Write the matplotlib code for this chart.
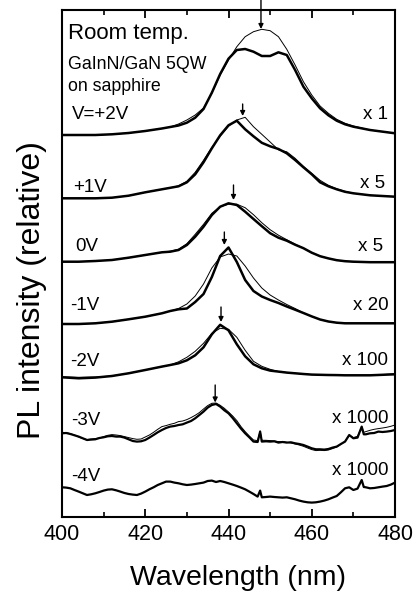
import matplotlib
matplotlib.use('Agg')
import matplotlib.pyplot as plt
from matplotlib.ticker import MultipleLocator
import numpy as np

plt.rcParams['font.family'] = ['Liberation Sans', 'DejaVu Sans']

# ---------------- data ----------------
WL = [400, 404, 408, 412, 416, 420, 424, 426, 428, 430, 432, 434, 436, 438, 440, 442,
      444, 446, 448, 450, 452, 454, 456, 458, 460, 462, 464, 466, 468, 470, 474, 480]

# heights above each spectrum's own baseline (relative units)
P2_THICK = [0, 0, 0, 0.7, 2, 4, 6.5, 8, 9.5, 12.3, 17.3, 26, 42.3, 61, 76.3, 85,
            86, 83.3, 79, 79, 82.7, 80, 65, 48.3, 36.7, 26.7, 19.7, 14.3, 10.7, 8.3, 5, 1.7]
P2_THIN = [0, 0, 0, 0.7, 2, 4, 6.5, 8, 11, 15, 20, 27, 42, 60, 75, 88.3,
           98.3, 103.3, 105.7, 104.3, 98.3, 85.7, 70, 53.3, 40, 29, 21.7, 15.7, 11.7, 9, 5, 1.7]
P1_THICK = [0, 0, 0, 0.6, 2.6, 6, 9, 10.5, 12, 16, 24, 36, 50, 63, 73, 77.6,
            69, 62, 55.5, 52, 49.3, 45, 38.3, 31, 24, 16, 12, 9, 6.5, 5, 3, 1.6]
P1_THIN = [0, 0, 0, 0.6, 2.6, 6, 9, 10.5, 12.5, 17, 26, 38, 51, 62, 72, 78.3,
           81, 71.6, 64, 56.3, 48.5, 46.5, 40, 32, 25, 18, 13, 9.5, 7, 5, 3, 1.6]
Z0_THICK = [0, 0, 0.7, 1.7, 4, 6.7, 9.4, 10, 11.7, 16.7, 25, 35, 46.7, 55, 58.4, 56.7,
            50, 42.7, 35.5, 28.5, 24, 21, 17, 13.5, 9, 5.5, 3.3, 1.5, 0.5, 0, -0.5, -0.5]
Z0_THIN = [0, 0, 0.7, 1.7, 4, 6.7, 9.4, 10.5, 12.5, 18, 27.4, 37.4, 48.4, 55, 57.5, 57.5,
           54, 47, 39, 32, 26.5, 22, 17.5, 13.5, 9, 5.5, 3.3, 1.5, 0.5, 0, -0.5, -0.5]
M1_THICK = [0, 0, 0.7, 2.3, 4.7, 7.3, 10.7, 13, 14.7, 15.5, 22, 30, 47, 68, 76.5, 62,
            44, 33, 27.5, 24, 21, 17.5, 14.3, 11, 7.6, 4.5, 2.5, 1.3, 0.7, 0.7, 0.7, 0.7]
M1_THIN = [0, 0, 0.7, 2.3, 4.7, 7.3, 10.7, 13, 15.5, 20, 28, 40, 56, 67, 70, 68,
           58, 46, 36, 29, 24, 19.5, 15.5, 11, 7.6, 4.5, 2.5, 1.3, 0.7, 0.7, 0.7, 0.7]
M2_THICK = [0, -1, -0.3, 1.3, 4, 7.3, 10.7, 12.3, 14, 17, 22, 30, 43, 52.5, 47, 33,
            21, 13, 9, 6.7, 5.7, 4.7, 4, 3.3, 2.7, 2.5, 2.3, 2.2, 2, 2, 2, 3]
M2_THIN = [0.5, 0, 0.3, 1.3, 4, 7.3, 10.7, 12.3, 15.5, 20, 26, 34, 44, 49, 48, 40,
           27, 16, 11, 8, 5.7, 4.7, 4, 3.3, 2.7, 2.5, 2.3, 2.2, 2, 2, 2, 3.5]

WL_NOISY = list(range(400, 448)) + [447.6] + list(range(448, 473)) + [472.5] + list(range(473, 481))
M3_THICK = [0, 0.3, -0.7, -2, -3.3, -5, -6.7, -6.3, -6, -4.7,
            -4, -3, -2.7, -3.3, -3.3, -4.3, -6, -7.7, -8.3, -8,
            -6.7, -4.3, -1.7, 1, 3.3, 5.3, 6.7, 7.3, 8.3, 9,
            10.7, 12.3, 15, 18.3, 21.7, 25.7, 28.3, 29.3, 26.7, 23,
            20, 15.3, 10, 4.7, 0, -4, -8.3, -8.7,
            1.7,
            -8.3, -8, -8.3, -8, -9.3, -8.7, -9.3, -9, -10, -10.7,
            -11.7, -13.3, -15, -16, -16, -16.3, -15.7, -14.3, -13.3, -10.7,
            -8.3, -1.7, -5, -4.3, 6.7,
            -1,
            -1, 0, 0.3, 1.7, 1.3, 1.7, 2.3, 3.3]
M3_THIN = [1, 0.7, -0.3, -1.7, -3.7, -5.3, -6.3, -5.7, -5.3, -4.7,
           -3.3, -2, -1.3, -1.7, -2.3, -3.3, -4.3, -5.3, -6, -5.7,
           -3.7, -1.7, 1, 4, 6.7, 7.7, 9, 10, 11.7, 12.3,
           13.7, 15.7, 18, 20.7, 24.3, 27.7, 30, 30.3, 28, 25,
           21.3, 17.3, 12.7, 6.7, 1.7, -2.7, -6.7, -7.3,
           2.3,
           -7, -7, -7.3, -7.7, -8.3, -8.3, -9, -9.7, -10.7, -11.7,
           -13, -14.7, -16.3, -17.3, -17, -17.3, -16.7, -15.3, -13.7, -11,
           -8, -2, -4.3, -3, 6.3,
           1,
           1.7, 3, 4, 4.7, 5.3, 6, 7, 8.3]
M4_THICK = [0, -0.3, -1, -2.7, -4.3, -6, -7.7, -7, -6, -4.7,
            -3.3, -2.3, -2, -3, -4.3, -5.7, -6.7, -7.3, -7.7, -6.3,
            -4.3, -2, 0, 2.3, 4, 5.7, 5.7, 4.7, 4, 3,
            2.3, 2.7, 3.3, 4, 4.7, 6.3, 6.7, 5.3, 6.3, 5.3,
            4, 2.7, 1.3, -0.3, -2, -4.3, -6.7, -9.3,
            -3.3,
            -10, -9.7, -9.3, -9.7, -10, -10.3, -10, -11, -12, -13.3,
            -14.3, -15, -15.3, -15, -14.3, -13.3, -12, -10.3, -8.7, -5,
            -1, 0, -2.7, -1.3, 7.3,
            0.3,
            0, -1, -0.7, 0, 0.7, 1.3, 2.7, 4.7]

VOLTAGES = ["V=+2V", "+1V", "0V", "-1V", "-2V", "-3V", "-4V"]
FACTORS = ["x 1", "x 5", "x 5", "x 20", "x 100", "x 1000", "x 1000"]
OFFSETS = [382, 318.7, 255.3, 193, 139.7, 83.7, 29.7]
PEAK_WL = [447.8, 443.4, 441.2, 439.0, 438.2, 436.8]
PEAK_H = [106, 82.3, 61.7, 79, 55.3, 30.8]

# ---------------- figure ----------------
fig = plt.figure(figsize=(4.14, 5.99), dpi=100)
ax = fig.add_axes([62 / 414, 1 - 517 / 599, 333 / 414, 507 / 599])
ax.set_xlim(400, 480)
ax.set_ylim(0, 507)

smooth = [(P2_THIN, P2_THICK), (P1_THIN, P1_THICK), (Z0_THIN, Z0_THICK),
          (M1_THIN, M1_THICK), (M2_THIN, M2_THICK)]
for (thin, thick), off in zip(smooth, OFFSETS[:5]):
    ax.plot(WL, off + np.array(thin), color='k', lw=0.7, solid_joinstyle='round')
    ax.plot(WL, off + np.array(thick), color='k', lw=1.8, solid_joinstyle='round')

ax.plot(WL_NOISY, OFFSETS[5] + np.array(M3_THIN), color='k', lw=0.7)
ax.plot(WL_NOISY, OFFSETS[5] + np.array(M3_THICK), color='k', lw=1.6)
ax.plot(WL_NOISY, OFFSETS[6] + np.array(M4_THICK), color='k', lw=1.6)

tails = [29, 12, 15, 13, 15, 17.5]
for wl, h, off, t in zip(PEAK_WL, PEAK_H, OFFSETS, tails):
    ax.annotate('', xy=(wl, off + h), xytext=(wl, off + h + t),
                arrowprops=dict(arrowstyle='-|>', color='k', lw=1.0,
                                mutation_scale=7, shrinkA=0, shrinkB=0),
                annotation_clip=False)

# labels
vx = [402.3, 402.7, 403.1, 401.9, 401.9, 402.3, 402.3]
vy = [398, 325, 266, 207, 151, 92, 36]
fy = [398, 329, 266, 207, 152, 94, 42]
fx = [478.4, 477.6, 477.2, 478.4, 478.4, 478.4, 478.4]
for v, f, x1, y1, x2, y2 in zip(VOLTAGES, FACTORS, vx, vy, fx, fy):
    ax.text(x1, y1, v, fontsize=13.5, ha='left', va='baseline')
    ax.text(x2, y2, f, fontsize=13.5, ha='right', va='baseline')

ax.text(401.5, 478, "Room temp.", fontsize=16, ha='left', va='baseline')
ax.text(401.5, 448, "GaInN/GaN 5QW", fontsize=12.8, ha='left', va='baseline')
ax.text(401.5, 426, "on sapphire", fontsize=12.8, ha='left', va='baseline')

# axes styling
ax.xaxis.set_major_locator(MultipleLocator(20))
ax.xaxis.set_minor_locator(MultipleLocator(10))
ax.set_yticks([])
ax.tick_params(axis='x', which='both', direction='in', top=True, bottom=True)
ax.tick_params(axis='x', which='major', length=6, width=1.3, labelsize=15.5, pad=5)
ax.tick_params(axis='x', which='minor', length=3.5, width=1.2)
for s in ax.spines.values():
    s.set_linewidth(1.5)

fig.text(238.5 / 414, 1 - 578 / 599, "Wavelength (nm)", fontsize=20.5,
         ha='center', va='center')
fig.text(32 / 414, 1 - 290 / 599, "PL intensity (relative)", fontsize=23,
         ha='center', va='center', rotation=90)

fig.savefig('out.png', dpi=100)
